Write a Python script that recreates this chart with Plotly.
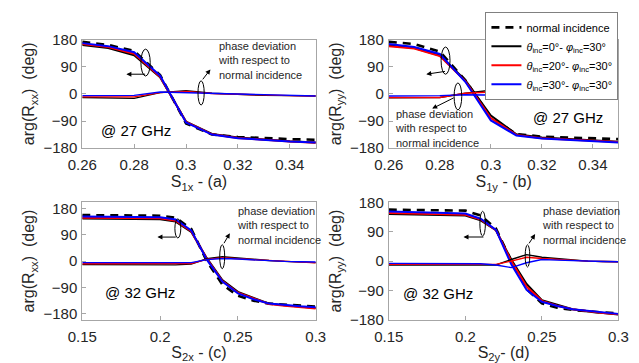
import plotly.graph_objects as go

# ---------------- data ----------------
# panel (a): S1x @ 27 GHz
xa = [0.26, 0.27, 0.28, 0.29, 0.30, 0.31, 0.32, 0.33, 0.34, 0.35]
a_norm = [172, 162, 142, 62, -98, -135, -143, -147, -150, -152]
a_t0 = [162, 152, 128, 55, -92, -133, -145, -152, -157, -161]
a_t20 = [165, 155, 133, 57, -93, -134, -146, -153, -158, -162]
a_t30 = [168, 158, 138, 60, -95, -135, -147, -153, -158, -161]
a_d0 = [-12, -13, -15, 4, 10, 2, -2, -5, -6, -7]
a_d20 = [-10, -10, -10, 4, 8, 1, -2, -4, -6, -7]
a_d30 = [-6, -6, -5, 6, 4, 0, -2, -4, -5, -7]

# panel (b): S1y @ 27 GHz
xb = [0.26, 0.27, 0.28, 0.29, 0.30, 0.31, 0.32, 0.33, 0.34, 0.35]
b_norm = [172, 165, 140, 45, -78, -133, -142, -145, -148, -150]
b_t0 = [160, 152, 127, 45, -72, -134, -145, -150, -155, -159]
b_t20 = [158, 150, 125, 42, -80, -136, -147, -152, -156, -160]
b_t30 = [165, 155, 132, 40, -88, -138, -148, -153, -157, -161]
b_d0 = [-13, -13, -12, 2, 12, 0, -3, -5, -7, -8]
b_d20 = [-12, -12, -12, 2, 6, -2, -4, -5, -7, -8]
b_d30 = [-7, -7, -6, -3, -3, -5, -5, -6, -7, -7]

# panel (c): S2x @ 32 GHz
xc = [0.15, 0.20, 0.21, 0.22, 0.23, 0.24, 0.25, 0.26, 0.27, 0.28, 0.29, 0.30]
c_norm = [157, 155, 148, 110, 0, -80, -118, -135, -145, -149, -152, -155]
c_t0 = [145, 143, 135, 100, 10, -65, -105, -125, -145, -151, -156, -160]
c_t20 = [148, 146, 138, 102, 8, -68, -108, -128, -146, -152, -157, -162]
c_t30 = [152, 150, 142, 105, 5, -70, -110, -130, -145, -150, -154, -157]
c_d0 = [-12, -12, -13, -10, 8, 15, 10, 6, 2, -1, -3, -5]
c_d20 = [-9, -9, -10, -8, 6, 12, 8, 5, 1, -2, -4, -6]
c_d30 = [-5, -5, -6, -5, 5, 9, 7, 4, 1, -1, -2, -3]

# panel (d): S2y @ 32 GHz
xd = [0.15, 0.20, 0.21, 0.22, 0.23, 0.24, 0.25, 0.26, 0.27, 0.28, 0.29, 0.30]
d_norm = [158, 155, 140, 100, 0, -85, -130, -143, -150, -155, -158, -160]
d_t0 = [145, 140, 125, 95, 5, -70, -120, -135, -148, -155, -160, -164]
d_t20 = [148, 142, 128, 95, 0, -78, -122, -137, -148, -154, -159, -163]
d_t30 = [152, 146, 130, 96, -10, -88, -125, -138, -148, -153, -158, -162]
d_d0 = [-12, -12, -13, -12, 5, 20, 12, 8, 3, 0, -1, -2]
d_d20 = [-10, -10, -11, -10, 0, 12, 8, 5, 2, 0, -1, -2]
d_d30 = [-7, -7, -8, -12, -20, -5, 5, 3, 1, 0, -1, -2]

y_ticks = [-180, -90, 0, 90, 180]
xticks_top = [0.26, 0.28, 0.30, 0.32, 0.34]
xticklabels_top = ["0.26", "0.28", "0.3", "0.32", "0.34"]
xticks_bot = [0.15, 0.20, 0.25, 0.30]
xticklabels_bot = ["0.15", "0.2", "0.25", "0.3"]

legend_names = ["normal incidence",
                "<i>θ</i><sub>inc</sub>=0°- <i>φ</i><sub>inc</sub>=30°",
                "<i>θ</i><sub>inc</sub>=20°- <i>φ</i><sub>inc</sub>=30°",
                "<i>θ</i><sub>inc</sub>=30°- <i>φ</i><sub>inc</sub>=30°"]

BLACK = "#000000"
RED = "#ff0000"
BLUE = "#0000ff"

fig = go.Figure()

panels = [
    ("x", "y", xa, a_norm, a_t0, a_t20, a_t30, a_d0, a_d20, a_d30),
    ("x2", "y2", xb, b_norm, b_t0, b_t20, b_t30, b_d0, b_d20, b_d30),
    ("x3", "y3", xc, c_norm, c_t0, c_t20, c_t30, c_d0, c_d20, c_d30),
    ("x4", "y4", xd, d_norm, d_t0, d_t20, d_t30, d_d0, d_d20, d_d30),
]

for i, (xr, yr, xs, nrm, t0, t20, t30, d0, d20, d30) in enumerate(panels):
    show = (i == 1)
    fig.add_trace(go.Scatter(x=xs, y=nrm, mode="lines", xaxis=xr, yaxis=yr,
                             line=dict(color=BLACK, width=2.6, dash="8px,6px"),
                             name=legend_names[0], showlegend=show))
    for vals, col, nm in [(t0, BLACK, legend_names[1]), (t20, RED, legend_names[2]),
                          (t30, BLUE, legend_names[3])]:
        fig.add_trace(go.Scatter(x=xs, y=vals, mode="lines", xaxis=xr, yaxis=yr,
                                 line=dict(color=col, width=2), name=nm, showlegend=show))
    for vals, col in [(d0, BLACK), (d20, RED), (d30, BLUE)]:
        fig.add_trace(go.Scatter(x=xs, y=vals, mode="lines", xaxis=xr, yaxis=yr,
                                 line=dict(color=col, width=1.4), showlegend=False))

W, H = 639, 363
dom_x_left = [70 / W, 313 / W]
dom_x_right = [389 / W, 628 / W]
dom_y_top = [1 - 146 / H, 1 - 32 / H]
dom_y_bot = [1 - 326 / H, 1 - 203 / H]

axis_common = dict(showline=True, linecolor="#a6a6a6", linewidth=1, mirror=True,
                   ticks="inside", ticklen=4, tickcolor="#a6a6a6",
                   showgrid=False, zeroline=False,
                   tickfont=dict(size=15, color="#262626"))

def xax(dom, rng, tv, tt, title, anchor):
    d = dict(axis_common)
    d.update(domain=dom, range=rng, tickvals=tv, ticktext=tt, anchor=anchor,
             ticklabelstandoff=3,
             title=dict(text=title, font=dict(size=16, color="#262626"), standoff=0))
    return d

def yax(dom, rng, title, anchor):
    d = dict(axis_common)
    d.update(domain=dom, range=rng, tickvals=y_ticks, anchor=anchor,
             ticklabelstandoff=1,
             title=dict(text=title, font=dict(size=16, color="#262626"), standoff=4))
    return d

fig.update_layout(
    width=W, height=H,
    margin=dict(l=0, r=0, t=0, b=0),
    paper_bgcolor="white", plot_bgcolor="white",
    font=dict(family="Liberation Sans, Arial, sans-serif", color="#262626"),
    xaxis=xax(dom_x_left, [0.26, 0.35], xticks_top, xticklabels_top, "S<sub>1x</sub> - (a)", "y"),
    yaxis=yax(dom_y_top, [-180, 180], "arg(R<sub>xx</sub>)  (deg)", "x"),
    xaxis2=xax(dom_x_right, [0.26, 0.35], xticks_top, xticklabels_top, "S<sub>1y</sub> - (b)", "y2"),
    yaxis2=yax(dom_y_top, [-180, 180], "arg(R<sub>yy</sub>)  (deg)", "x2"),
    xaxis3=xax(dom_x_left, [0.15, 0.30], xticks_bot, xticklabels_bot, "S<sub>2x</sub> - (c)", "y3"),
    yaxis3=yax(dom_y_bot, [-200, 200], "arg(R<sub>xx</sub>)  (deg)", "x3"),
    xaxis4=xax(dom_x_right, [0.15, 0.30], xticks_bot, xticklabels_bot, "S<sub>2y</sub>- (d)", "y4"),
    yaxis4=yax(dom_y_bot, [-180, 180], "arg(R<sub>yy</sub>)  (deg)", "x4"),
    legend=dict(x=628 / W, y=1 - 3 / H, xanchor="right", yanchor="top",
                bgcolor="white", bordercolor="#808080", borderwidth=1,
                font=dict(size=11, color="#000000"), tracegroupgap=0,
                itemwidth=30),
    showlegend=True,
)

# ellipses (annotation marks)
ellipses = [
    ("x", "y", 0.2826, 0.2862, 59, 148),
    ("x", "y", 0.3046, 0.3070, -37, 43),
    ("x2", "y2", 0.2805, 0.2840, 65, 155),
    ("x2", "y2", 0.2856, 0.2886, -53, 36),
    ("x3", "y3", 0.2095, 0.2133, 79, 144),
    ("x3", "y3", 0.2383, 0.2415, -26, 56),
    ("x4", "y4", 0.2095, 0.2131, 77, 153),
    ("x4", "y4", 0.2391, 0.2421, -18, 50),
]
for xr, yr, x0, x1, y0, y1 in ellipses:
    fig.add_shape(type="circle", xref=xr, yref=yr, x0=x0, x1=x1, y0=y0, y1=y1,
                  line=dict(color="black", width=1))

# arrows: (xref, yref, head_x, head_y, tail_x, tail_y)
arrows = [
    ("x", "y", 0.2770, 65, 0.2848, 65),
    ("x", "y", 0.3094, 81, 0.3060, 43),
    ("x2", "y2", 0.2747, 65, 0.2826, 75),
    ("x2", "y2", 0.2770, -49, 0.2860, -11),
    ("x3", "y3", 0.1983, 82, 0.2110, 82),
    ("x3", "y3", 0.2448, 95, 0.2405, 56),
    ("x4", "y4", 0.1988, 74, 0.2128, 74),
    ("x4", "y4", 0.2456, 83, 0.2410, 50),
]
for xr, yr, hx, hy, tx, ty in arrows:
    fig.add_annotation(x=hx, y=hy, ax=tx, ay=ty, xref=xr, yref=yr, axref=xr, ayref=yr,
                       showarrow=True, arrowhead=2, arrowsize=1, arrowwidth=1,
                       arrowcolor="black", text="")

dev_text = "phase deviation<br>with respect to<br>normal incidence"
texts = [
    ("x", "y", 0.3115, 110, dev_text, "left"),
    ("x2", "y2", 0.2615, -115, dev_text, "left"),
    ("x3", "y3", 0.2479, 121, dev_text, "left"),
    ("x4", "y4", 0.2488, 109, dev_text, "left"),
]
for xr, yr, x, y, t, al in texts:
    fig.add_annotation(x=x, y=y, xref=xr, yref=yr, text=t, showarrow=False,
                       xanchor="left", yanchor="middle", align=al,
                       font=dict(size=11, color="#262626"))

ghz = [
    ("x", "y", 0.2807, -122, "@ 27 GHz"),
    ("x2", "y2", 0.3304, -78, "@ 27 GHz"),
    ("x3", "y3", 0.1872, -108, "@ 32 GHz"),
    ("x4", "y4", 0.1819, -100, "@ 32 GHz"),
]
for xr, yr, x, y, t in ghz:
    fig.add_annotation(x=x, y=y, xref=xr, yref=yr, text=t, showarrow=False,
                       xanchor="center", yanchor="middle",
                       font=dict(size=15, color="#000000"))

fig.write_html("out.html")
